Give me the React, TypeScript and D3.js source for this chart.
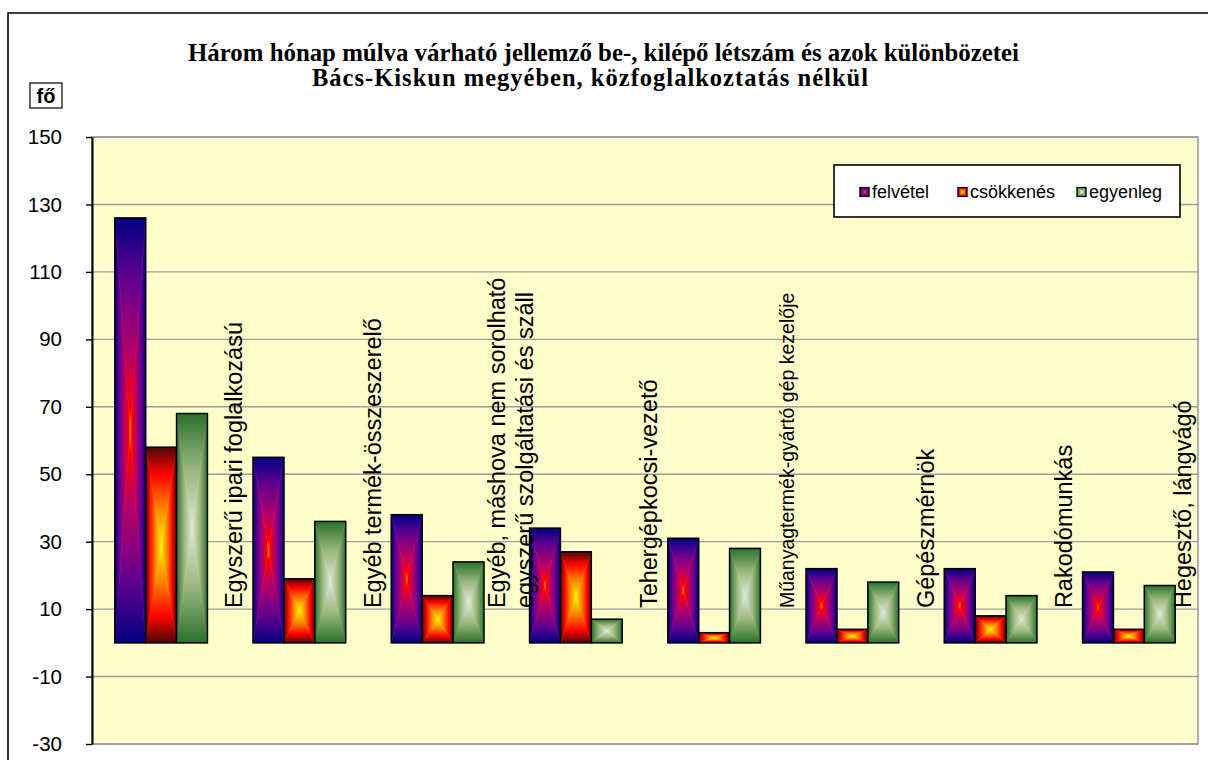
import { useEffect, useRef } from "react";
import * as d3 from "d3";

// Occupations (line breaks mark two-line labels)
const categories = [
    "Egyszerű ipari foglalkozású",
    "Egyéb termék-összeszerelő",
    "Egyéb, máshova nem sorolható\negyszerű szolgáltatási és száll",
    "Tehergépkocsi-vezető",
    "Műanyagtermék-gyártó gép kezelője",
    "Gépészmérnök",
    "Rakodómunkás",
    "Hegesztő, lángvágó",
];

const seriesNames = ["felvétel", "csökkenés", "egyenleg"];

const felvetel = [126, 55, 38, 34, 31, 22, 22, 21];
const csokkenes = [58, 19, 14, 27, 3, 4, 8, 4];
const egyenleg = [68, 36, 24, 7, 28, 18, 14, 17];

const yTicks = [-30, -10, 10, 30, 50, 70, 90, 110, 130, 150];

const titleLines = [
    "Három hónap múlva várható jellemző be-, kilépő létszám és azok különbözetei",
    "Bács-Kiskun megyében, közfoglalkoztatás nélkül",
];

// gradient stops from the bar edge (0) towards its centre (1)
const gradients: Record<string, [number, string][]> = {
    g0: [
        [0, "#000082"],
        [0.3, "#66008F"],
        [0.65, "#BA0066"],
        [0.9, "#FF0000"],
        [1, "#FF8200"],
    ],
    g1: [
        [0, "#4D0808"],
        [0.28, "#FF0300"],
        [0.6, "#FF7A00"],
        [1, "#FFF200"],
    ],
    g2: [
        [0, "#2A722A"],
        [0.5, "#9DB87E"],
        [1, "#DDE8D6"],
    ],
};

const W = 1208;
const H = 760;
const plot = { left: 92, right: 1198, top: 137, bottom: 744 };
const sansFont = "'Liberation Sans', Arial, sans-serif";
const serifFont = "'Liberation Serif', 'Times New Roman', serif";

export default function App() {
    const svgRef = useRef<SVGSVGElement>(null);

    useEffect(() => {
        if (!svgRef.current) return;
        const svg = d3.select(svgRef.current);
        svg.selectAll("*").remove();

        const values = [felvetel, csokkenes, egyenleg];

        const x = d3
            .scaleBand<string>()
            .domain(categories)
            .range([plot.left, plot.right])
            .paddingInner(0.33)
            .paddingOuter(0.165);
        const xs = d3
            .scaleBand<string>()
            .domain(seriesNames)
            .range([0, x.bandwidth()]);
        const y = d3
            .scaleLinear()
            .domain([-30, 150])
            .range([plot.bottom, plot.top]);

        // gradient definitions: one per triangle side
        const defs = svg.append("defs");
        const sides = {
            top: { x1: 0, y1: 0, x2: 0, y2: 1 },
            bottom: { x1: 0, y1: 1, x2: 0, y2: 0 },
            left: { x1: 0, y1: 0, x2: 1, y2: 0 },
            right: { x1: 1, y1: 0, x2: 0, y2: 0 },
        };
        Object.entries(gradients).forEach(([id, stops]) => {
            Object.entries(sides).forEach(([side, v]) => {
                const lg = defs
                    .append("linearGradient")
                    .attr("id", `${id}-${side}`)
                    .attr("x1", v.x1)
                    .attr("y1", v.y1)
                    .attr("x2", v.x2)
                    .attr("y2", v.y2);
                stops.forEach(([o, c]) =>
                    lg.append("stop").attr("offset", o).attr("stop-color", c),
                );
            });
        });

        // rectangular "from centre" fill built from four triangles
        const drawBar = (
            g: d3.Selection<SVGGElement, unknown, null, undefined>,
            x0: number,
            y0: number,
            x1: number,
            y1: number,
            id: string,
            sw: number,
        ) => {
            const cx = (x0 + x1) / 2;
            const cy = (y0 + y1) / 2;
            const tris: [string, number[][]][] = [
                ["top", [[x0, y0], [x1, y0], [cx, cy]]],
                ["bottom", [[x0, y1], [x1, y1], [cx, cy]]],
                ["left", [[x0, y0], [x0, y1], [cx, cy]]],
                ["right", [[x1, y0], [x1, y1], [cx, cy]]],
            ];
            tris.forEach(([side, pts]) => {
                g.append("polygon")
                    .attr("points", pts.map((p) => p.join(",")).join(" "))
                    .attr("fill", `url(#${id}-${side})`)
                    .attr("stroke", `url(#${id}-${side})`)
                    .attr("stroke-width", 0.6);
            });
            g.append("rect")
                .attr("x", x0)
                .attr("y", y0)
                .attr("width", x1 - x0)
                .attr("height", y1 - y0)
                .attr("fill", "none")
                .attr("stroke", "#000")
                .attr("stroke-width", sw);
        };

        // page background + outer frame
        svg.append("rect").attr("width", W).attr("height", H).attr("fill", "#fff");
        svg.append("path")
            .attr("d", `M8,${H} V13 H${W}`)
            .attr("fill", "none")
            .attr("stroke", "#000")
            .attr("stroke-width", 1.6);

        // title
        const title = svg
            .append("g")
            .attr("font-family", serifFont)
            .attr("font-weight", "bold")
            .attr("font-size", "24.5px")
            .attr("fill", "#000");
        title.append("text")
            .attr("x", 188)
            .attr("y", 61)
            .attr("textLength", 831)
            .attr("lengthAdjust", "spacingAndGlyphs")
            .text(titleLines[0]);
        title.append("text")
            .attr("x", 312)
            .attr("y", 86)
            .attr("textLength", 556)
            .attr("lengthAdjust", "spacing")
            .text(titleLines[1]);

        // unit box
        svg.append("rect")
            .attr("x", 30)
            .attr("y", 83)
            .attr("width", 32)
            .attr("height", 25)
            .attr("fill", "#fff")
            .attr("stroke", "#000")
            .attr("stroke-width", 1.2);
        svg.append("text")
            .attr("x", 46)
            .attr("y", 96)
            .attr("dy", "0.35em")
            .attr("text-anchor", "middle")
            .attr("font-family", sansFont)
            .attr("font-weight", "bold")
            .attr("font-size", 20)
            .text("fő");

        // plot area
        svg.append("rect")
            .attr("x", plot.left)
            .attr("y", plot.top)
            .attr("width", plot.right - plot.left)
            .attr("height", plot.bottom - plot.top)
            .attr("fill", "#FFFFCC");

        svg.append("g")
            .selectAll("line")
            .data(yTicks)
            .join("line")
            .attr("x1", plot.left)
            .attr("x2", plot.right)
            .attr("y1", (d) => y(d))
            .attr("y2", (d) => y(d))
            .attr("stroke", "#9C9CA0")
            .attr("stroke-width", 1.4);

        svg.append("rect")
            .attr("x", plot.left)
            .attr("y", plot.top)
            .attr("width", plot.right - plot.left)
            .attr("height", plot.bottom - plot.top)
            .attr("fill", "none")
            .attr("stroke", "#9C9C9C")
            .attr("stroke-width", 1.6);

        // y axis
        const yAxis = svg
            .append("g")
            .attr("transform", `translate(${plot.left},0)`)
            .call(
                d3
                    .axisLeft(y)
                    .tickValues(yTicks)
                    .tickFormat((d) => String(d))
                    .tickSize(6)
                    .tickPadding(24)
                    .tickSizeOuter(0),
            );
        yAxis.select(".domain").attr("stroke", "#000").attr("stroke-width", 2);
        yAxis.selectAll(".tick line").attr("stroke", "#000").attr("stroke-width", 1.4);
        yAxis.selectAll(".tick text")
            .attr("font-family", sansFont)
            .attr("font-size", 20.5)
            .attr("fill", "#000");

        // bars
        const bars = svg.append("g");
        categories.forEach((cat, i) => {
            seriesNames.forEach((s, k) => {
                const x0 = x(cat)! + xs(s)!;
                drawBar(
                    bars,
                    x0,
                    y(values[k][i]),
                    x0 + xs.bandwidth(),
                    y(0),
                    `g${k}`,
                    1.5,
                );
            });
        });

        // occupation labels, rotated, in the gap after each group
        const labels = svg
            .append("g")
            .attr("font-family", sansFont)
            .attr("fill", "#000");
        categories.forEach((cat, i) => {
            const lines = cat.split("\n");
            const boundary = x(cat)! + x.bandwidth() + (x.step() - x.bandwidth()) / 2;
            const cx = Math.min(boundary + 4, plot.right - 15);
            const size = cat.length > 30 && lines.length === 1 ? 19.5 : 23.5;
            const lineGap = 28;
            lines.forEach((line, j) => {
                const lx = cx + (j - (lines.length - 1) / 2) * lineGap;
                labels.append("text")
                    .attr("transform", `translate(${lx},${y(10) - 1}) rotate(-90)`)
                    .attr("dy", "0.35em")
                    .attr("font-size", size)
                    .text(line);
            });
        });

        // legend
        const legend = svg.append("g");
        legend.append("rect")
            .attr("x", 834)
            .attr("y", 165)
            .attr("width", 346)
            .attr("height", 52)
            .attr("fill", "#fff")
            .attr("stroke", "#000")
            .attr("stroke-width", 1.6);
        const legendX = [860, 958, 1077];
        seriesNames.forEach((s, k) => {
            drawBar(legend, legendX[k], 187.5, legendX[k] + 9, 196.5, `g${k}`, 1.2);
            legend.append("text")
                .attr("x", legendX[k] + 12)
                .attr("y", 192)
                .attr("dy", "0.35em")
                .attr("font-family", sansFont)
                .attr("font-size", 18)
                .text(s);
        });
    }, []);

    return (
        <div style={{ position: "absolute", left: 0, top: 0 }}>
            <svg ref={svgRef} width={W} height={H} style={{ display: "block" }}></svg>
        </div>
    );
}
